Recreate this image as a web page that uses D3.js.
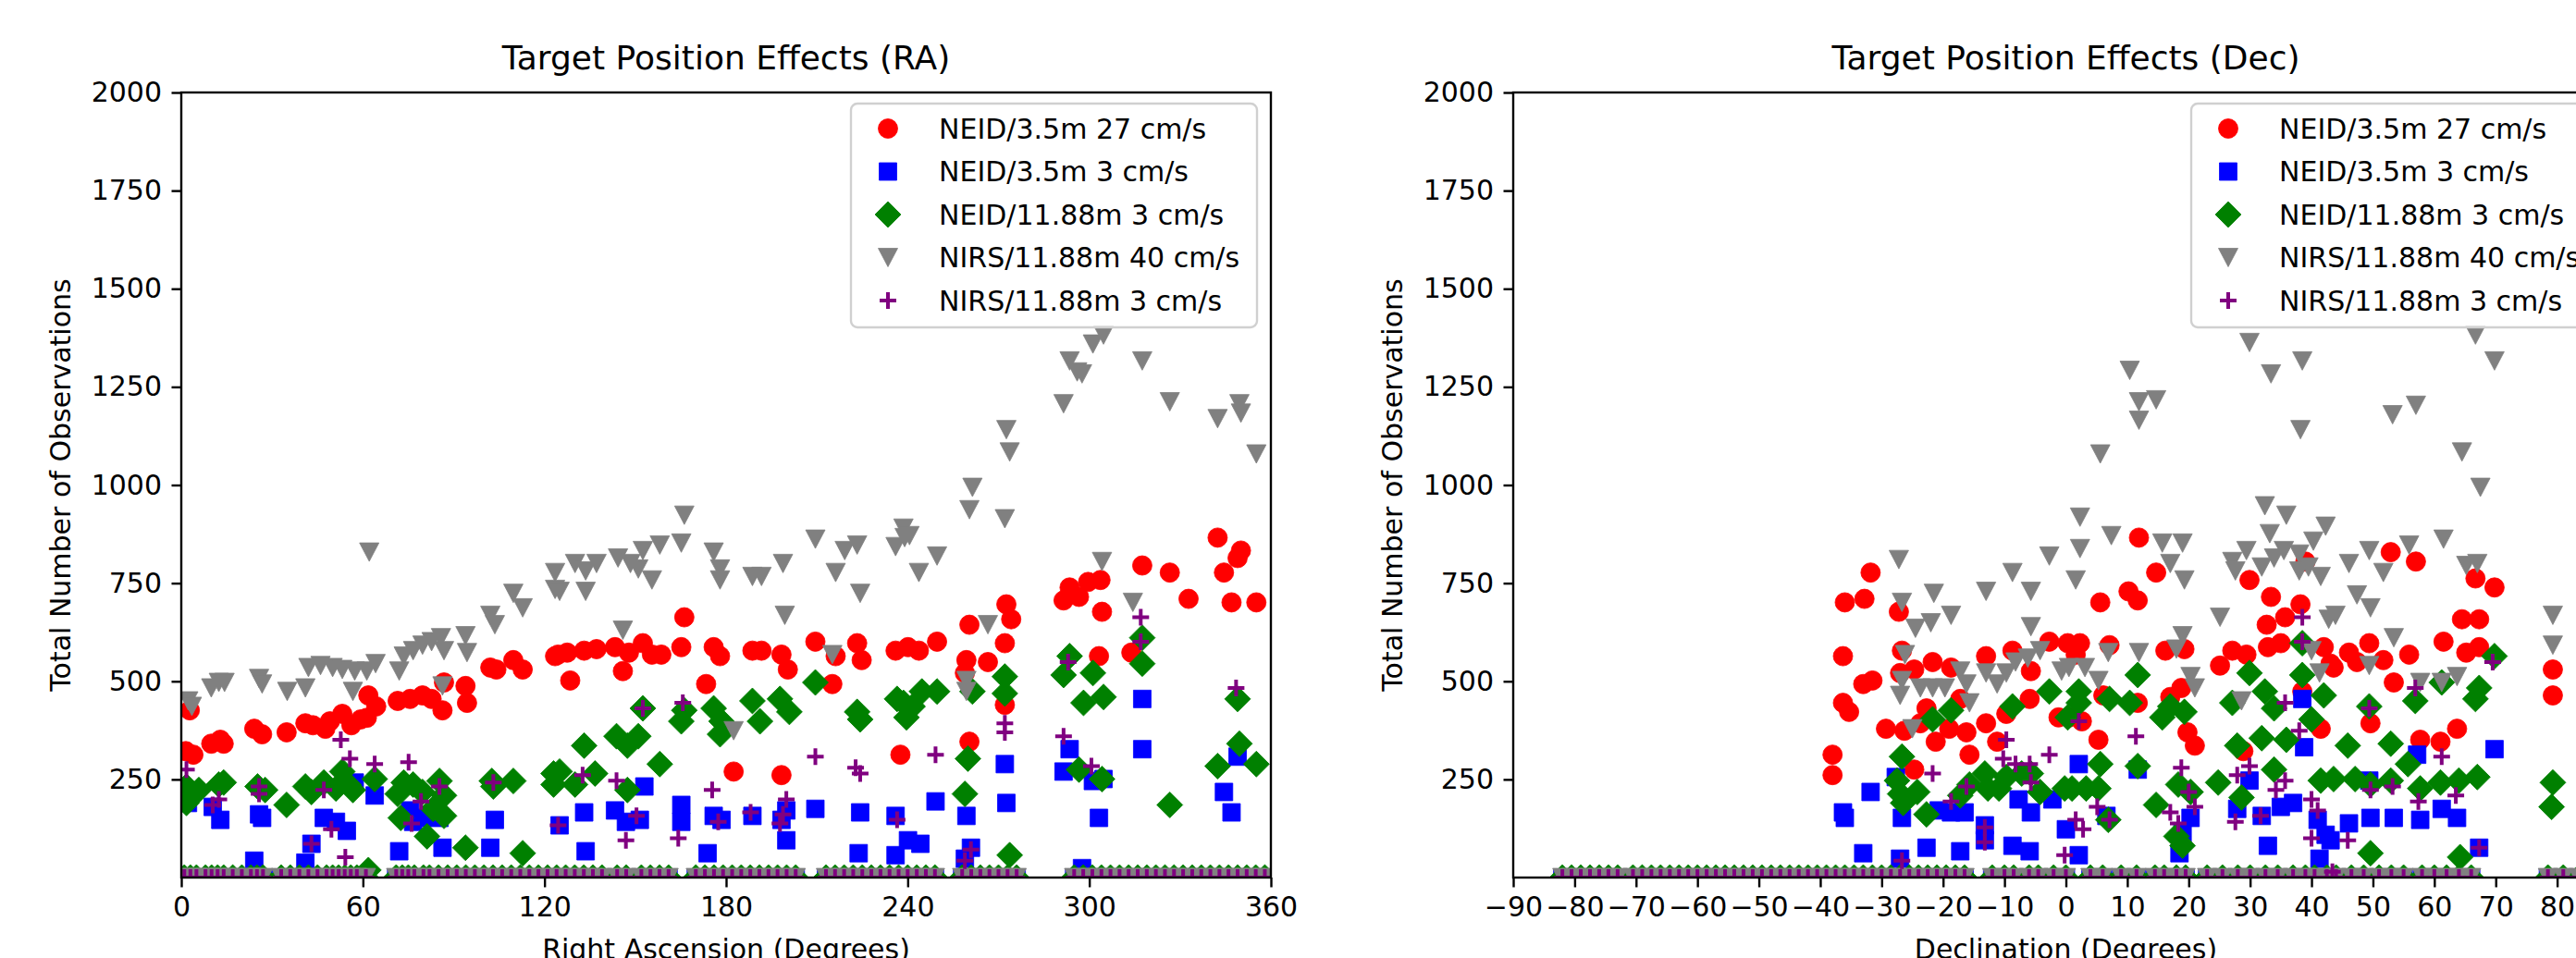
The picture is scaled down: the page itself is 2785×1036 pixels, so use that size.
<!DOCTYPE html>
<html>
<head>
<meta charset="utf-8">
<script src="https://cdn.jsdelivr.net/npm/d3@7"></script>
<style>
  body { margin: 0; background: #fff; }
  svg { display: block; font-family: "DejaVu Sans", sans-serif; }
</style>
</head>
<body>
<div id="chart"></div>
<script>
const WIDTH = 2785;
const HEIGHT = 1036;

// series labels (legend order = draw order)
const seriesNames = ["NEID/3.5m 27 cm/s", "NEID/3.5m 3 cm/s", "NEID/11.88m 3 cm/s", "NIRS/11.88m 40 cm/s", "NIRS/11.88m 3 cm/s"];
const yTicks = [250, 500, 750, 1000, 1250, 1500, 1750, 2000];
const raTicks = [0, 60, 120, 180, 240, 300, 360];
const decTicks = [-90, -80, -70, -60, -50, -40, -30, -20, -10, 0, 10, 20, 30, 40, 50, 60, 70, 80, 90];

// ---- RA panel, [ra, observations]
const raRed = [[2.8,426],[1.5,322],[4,313],[9.9,341],[12.9,351],[14,341],[24.1,379],[26.7,365],[34.8,370],[41,393],[43.5,388],[47.6,379],[49.1,398],[53.2,417],[56.2,388],[59.3,403],[61.3,407],[61.8,464],[64.4,436],[71.5,450],[75.6,455],[79.7,464],[82.7,455],[86.3,426],[86.8,497],[93.9,488],[94.4,445],[102.1,535],[104.1,530],[109.7,554],[112.8,530],[123.5,564],[124.5,568],[127.5,573],[128.5,502],[133.1,578],[137.2,582],[143.3,587],[145.9,526],[147.9,573],[152.5,597],[155.5,568],[158.6,568],[165.2,587],[166.2,663],[173.4,493],[175.9,587],[178,564],[182.5,270],[188.7,578],[191.7,578],[198.3,568],[198.3,261],[200.4,530],[209.5,601],[215.1,493],[216.2,564],[223.3,597],[224.8,554],[236,578],[237.6,313],[240.1,587],[243.7,578],[249.7,601],[258.9,521],[259.4,554],[260.4,644],[260.4,346],[266.5,549],[272.1,597],[272.1,440],[272.6,696],[274.2,658],[291.5,706],[293.5,739],[296.6,715],[299.6,753],[303.7,758],[304.2,677],[303.2,564],[313.9,573],[317.5,795],[326.6,777],[332.8,710],[342.4,866],[344.5,777],[347,701],[349,814],[350.1,833],[355.2,701]];
const raBlue = [[2.2,190],[10.4,180],[12.9,147],[24.1,43],[25.7,161],[26.7,152],[41,38],[43,86],[47.1,152],[51.1,142],[54.7,119],[57.3,242],[63.9,209],[72,67],[75.6,171],[76.6,142],[79.7,152],[85.3,152],[86.3,76],[102.1,76],[103.6,147],[125,133],[133.1,166],[133.6,67],[143.3,171],[146.9,142],[151.5,147],[153,232],[165.2,185],[165.2,142],[173.9,62],[175.9,157],[178.5,147],[188.7,157],[198.3,147],[199.9,171],[199.9,95],[209.5,175],[223.8,62],[224.3,166],[236,157],[236,57],[240.1,95],[244.2,86],[249.2,194],[258.9,48],[259.4,157],[260.9,76],[272.1,289],[272.6,190],[291.5,270],[293.5,327],[297.6,24],[301.2,246],[303.2,152],[304.7,251],[317.5,455],[317.5,327],[344.5,218],[347,166],[349,308]];
const raGreen = [[1.7,232],[2.2,209],[1.7,190],[5.8,223],[12.4,237],[14,242],[25.2,232],[27.7,223],[34.8,185],[41,232],[43,218],[47.1,242],[51.1,227],[53.2,270],[55.2,237],[56.7,223],[61.8,19],[63.9,251],[71.5,213],[72.5,152],[73.5,242],[76.6,237],[79.7,218],[81.2,105],[83.2,175],[85.3,246],[86.8,209],[86.8,157],[93.9,76],[102.6,246],[103.1,232],[109.7,246],[112.8,62],[123,265],[123,237],[125,270],[130.1,237],[133.1,336],[136.7,265],[143.8,360],[147.4,336],[147.4,223],[151,360],[152.5,431],[158.1,289],[165.2,398],[166.2,426],[175.9,431],[178,365],[178.5,398],[188.7,450],[191.2,398],[197.8,455],[200.9,422],[209.5,497],[223.3,422],[224.3,403],[236.5,455],[238.6,445],[239.6,408],[241.6,436],[244.7,474],[249.7,474],[258.9,213],[259.9,303],[261.4,474],[272.1,512],[272.1,469],[273.7,57],[291.5,516],[293.5,564],[296.6,275],[298.1,445],[301.2,521],[304.2,251],[304.7,460],[317.5,611],[317.5,545],[326.6,185],[342.4,284],[349,455],[349.6,341],[355.2,289]];
const raGrey = [[2.3,450],[3.5,436],[9.9,483],[12.4,497],[14.3,497],[25.7,507],[26.7,493],[35,474],[41,483],[42,535],[46,540],[50,535],[53.2,530],[56.7,474],[57.3,526],[61.3,526],[62.1,829],[64.2,545],[72,526],[73.5,564],[76.6,578],[79.7,592],[82.7,601],[85.8,611],[86.3,488],[86.8,578],[93.9,616],[94.4,573],[102.1,668],[103.6,644],[109.7,724],[112.8,687],[123.5,777],[123.5,734],[125,729],[130.1,800],[133.6,781],[133.6,729],[137.2,800],[144.3,814],[145.9,630],[148.4,800],[151,786],[152.5,833],[155.5,758],[158.1,847],[165.2,852],[166.2,923],[175.9,829],[178,786],[178,758],[182.5,374],[188.7,767],[191.7,767],[198.8,800],[199.4,668],[209.5,862],[215.1,568],[216.2,777],[219.2,833],[223.3,847],[224.3,724],[236,843],[238.6,890],[239,866],[240.6,871],[243.7,777],[249.7,819],[259.4,474],[259.4,502],[260.4,937],[261.4,994],[266.5,644],[272.1,914],[272.6,1141],[273.7,1084],[291.5,1207],[293.5,1316],[296,1288],[297.6,1283],[301.2,1359],[304.2,805],[304.7,1382],[314.4,701],[317.5,1316],[326.6,1212],[342.4,1169],[349.6,1207],[350.1,1183],[355.2,1079]];
const raPurple = [[1.7,275],[10.4,185],[12.4,199],[25.7,232],[25.7,213],[43,86],[47.1,223],[49.6,123],[52.7,351],[54.2,52],[55.7,303],[63.9,289],[75.1,294],[76.1,138],[79.2,194],[85.3,232],[103.1,242],[124.5,133],[132.6,261],[143.8,247],[146.9,95],[150.4,157],[152.5,431],[164.2,100],[165.7,445],[175.4,223],[177.4,142],[188.1,166],[197.8,138],[198.8,161],[199.9,199],[209.5,308],[222.8,280],[224.3,265],[236.5,147],[249.2,313],[258.9,43],[260.9,71],[272.1,393],[272.1,370],[291.5,360],[293,549],[300.7,284],[317,663],[317,601],[348.5,483]];
// targets with no observations (sit on the x axis)
const raZeros = [1,3,5,8,10,12,14,17,20,23,25,27,33,36,39,42,45,48,50,52,54,56,58,61,71,73,75,77,80,82,85,88,91,94,97,100,103,106,109,112,115,118,121,124,127,130,133,136,139,144,147,152,155,158,161,170,173,176,179,182,185,188,191,194,197,200,203,213,216,219,222,225,228,231,234,237,240,243,246,249,258,261,264,267,270,273,276,295,298,301,304,307,310,313,316,319,322,325,328,331,334,337,340,343,346,349,352,355,358];

// ---- Dec panel, [dec, observations]
const decRed = [[-38,313],[-38,261],[-36.3,564],[-36.3,445],[-35.3,422],[-36,701],[-32.8,710],[-31.8,777],[-33,493],[-31.5,502],[-27.2,677],[-26.7,578],[-27,521],[-24.7,530],[-24.7,275],[-29.3,379],[-26.3,374],[-23.7,393],[-22.7,431],[-21.7,549],[-21.2,346],[-19,379],[-18.7,535],[-17.2,455],[-16.2,370],[-15.7,313],[-13,564],[-13,393],[-11.2,346],[-9.7,417],[-8.7,578],[-5.9,455],[-5.7,526],[-2.7,601],[-1.2,408],[0.3,597],[0.5,408],[1.6,568],[2.3,597],[2.6,398],[5.3,351],[5.6,701],[6.1,464],[7.1,592],[10.2,729],[11.7,706],[11.7,445],[11.9,866],[14.7,777],[16.2,578],[17,460],[18.8,483],[19.3,582],[19.8,370],[21,336],[25.1,540],[27.1,578],[28.9,322],[29.4,568],[29.9,758],[32.7,644],[32.9,587],[33.4,715],[35,597],[35.7,663],[38.2,696],[38.5,474],[39,805],[41.5,379],[42,587],[43.1,545],[43.6,535],[46.1,573],[47.4,549],[49.4,597],[49.6,393],[51.7,554],[52.9,829],[53.4,497],[55.9,568],[57,805],[57.7,351],[61,346],[61.5,601],[63.7,379],[64.5,658],[65.2,573],[66.7,762],[67.3,658],[67.3,587],[69.8,739],[79.3,530],[79.3,464]];
const decBlue = [[-36.3,166],[-36,152],[-33,62],[-31.8,218],[-27.7,256],[-27,48],[-26.7,152],[-22.7,76],[-20.7,171],[-18.7,166],[-17.2,67],[-16.5,166],[-13.2,133],[-13.2,95],[-8.7,81],[-7.7,199],[-5.9,67],[-5.7,166],[-2.2,199],[0,123],[2.1,289],[2.1,57],[6.6,157],[11.7,275],[18.5,62],[19,114],[20.3,152],[27.9,175],[29.9,247],[31.9,157],[32.9,81],[35,180],[37,190],[38.5,455],[38.8,332],[41,147],[41.3,48],[42.3,109],[43.1,95],[46.1,138],[49.4,247],[49.6,152],[53.4,152],[57.2,313],[57.7,147],[61.2,175],[63.7,152],[67.3,76],[69.8,327]];
const decGreen = [[-27.5,247],[-27,213],[-26.7,308],[-26.5,190],[-24.2,218],[-22.7,161],[-21.7,403],[-18.7,426],[-17.2,209],[-15.7,237],[-13.2,265],[-12.7,227],[-10.9,227],[-9.7,256],[-8.7,436],[-7.2,265],[-5.7,265],[-4.2,218],[-2.7,474],[-0.2,227],[0.3,408],[1,227],[2.1,474],[2.1,445],[3.3,227],[5.3,227],[5.6,289],[6.9,147],[7.1,455],[10.4,445],[11.7,516],[11.7,284],[14.7,185],[15.7,408],[17,436],[18,105],[18.3,237],[19,81],[19.3,422],[20.3,218],[24.8,242],[27.1,445],[27.9,336],[28.6,204],[29.9,521],[31.9,355],[32.4,474],[33.9,431],[33.9,275],[35.9,351],[38.5,597],[38.5,516],[40,403],[41.5,247],[42,464],[43.6,251],[45.9,336],[47.1,251],[49.4,436],[49.6,237],[49.6,62],[52.9,341],[52.9,247],[55.7,289],[56.9,450],[57.7,227],[61,242],[61.2,497],[64,247],[64.2,52],[66.7,455],[67,256],[67.3,483],[69.8,564],[79.3,242],[79.1,180]];
const decGrey = [[-27.2,810],[-26.7,701],[-24.5,635],[-22,649],[-21.5,724],[-18.7,668],[-26.2,568],[-26.7,502],[-27,464],[-25,379],[-23.7,483],[-21.7,483],[-19.7,483],[-17.2,526],[-16.2,493],[-15.7,445],[-13,729],[-13,521],[-11.2,493],[-9.7,521],[-8.7,777],[-8.2,549],[-5.7,729],[-5.7,639],[-6.2,559],[-4.2,578],[-2.7,819],[-0.7,526],[0.5,535],[1.6,758],[2.3,918],[2.3,838],[3.1,535],[5.3,502],[5.6,1079],[6.9,573],[7.4,871],[10.4,1292],[11.9,1212],[11.9,1165],[11.9,573],[14.7,1217],[15.7,852],[17,800],[18,582],[19,852],[19,616],[19.3,758],[20.3,512],[21,483],[25.1,663],[27.1,805],[27.6,781],[28.6,450],[29.4,833],[29.9,1363],[31.9,791],[32.4,947],[33.2,876],[33.4,1283],[33.9,814],[35.5,833],[35.9,923],[38,824],[38,781],[38.2,1141],[38.5,1316],[39.5,791],[40,578],[40.3,857],[41.3,521],[41.5,767],[42.3,895],[42.8,658],[43.9,668],[46.1,800],[47.4,720],[49.4,833],[49.4,540],[49.6,687],[51.7,777],[53.2,1179],[53.4,611],[55.9,847],[57,1203],[57.7,497],[61.2,497],[61.5,862],[63.7,512],[64.5,1084],[65.2,795],[66.7,1382],[67,800],[67.5,994],[69.8,1316],[79.3,668],[79.3,592]];
const decPurple = [[-26.7,43],[-21.7,265],[-18.7,194],[-16.2,232],[-13.2,128],[-13.2,90],[-10.2,303],[-9.7,351],[-8.2,289],[-5.9,289],[-5.7,242],[-2.7,313],[-0.2,57],[1.6,147],[2.1,398],[2.8,123],[5.1,180],[7.1,147],[11.4,360],[17,166],[18.3,138],[18.8,280],[20,218],[21,180],[27.6,142],[27.9,261],[29.9,284],[31.7,157],[34.2,223],[35.7,247],[35.7,445],[38,374],[38.5,663],[38.5,601],[40,199],[40,100],[41,171],[43.4,15],[45.9,95],[49.4,431],[49.6,223],[53.2,232],[56.9,483],[57.4,194],[61.2,308],[63.5,209],[67.3,76],[69.5,549]];
const decZeros = [-82,-80.5,-79,-77.5,-76,-74.5,-73,-70.5,-69,-67.5,-66,-64.5,-63,-61.5,-60,-58.5,-57,-55.5,-54,-52.5,-51,-49.5,-48,-46.5,-45,-43.5,-42,-40.5,-39,-37.5,-36,-34.5,-33,-31.5,-30,-28.5,-27,-25.5,-24,-22.5,-21,-19.5,-18,-16.5,-12,-10,-8.5,-6,-4.5,-2,0,4,6,9,11.5,14.5,16,18,19.5,23,25.5,28,30,32.5,34.5,37,39,40.5,42.5,44,46.5,48.5,51,53,55,58,60,62,64,66,78.5,81,83.5];

// marker styles per series
const styles = [
    { color: "#ff0000", shape: "circle" },
    { color: "#0000ff", shape: "square" },
    { color: "#008000", shape: "diamond" },
    { color: "#808080", shape: "tri" },
    { color: "#800080", shape: "plus" }
];

function markerPath(shape) {
    if (shape === "circle") { const r = 10.5; return `M${-r},0A${r},${r} 0 1,0 ${r},0A${r},${r} 0 1,0 ${-r},0Z`; }
    if (shape === "square") { const s = 9.5; return `M${-s},${-s}H${s}V${s}H${-s}Z`; }
    if (shape === "diamond") { const s = 14; return `M0,${-s}L${s},0L0,${s}L${-s},0Z`; }
    if (shape === "tri") { return "M-10.5,-10L10.5,-10L0,10Z"; }
    return "M-9,0H9M0,-9V9";
}

function drawMarkers(g, data, style, x, y) {
    const p = markerPath(style.shape);
    g.append("g").selectAll("path")
        .data(data)
        .enter().append("path")
        .attr("d", p)
        .attr("transform", d => `translate(${x(d[0])},${y(d[1])})`)
        .attr("fill", style.shape === "plus" ? "none" : style.color)
        .attr("stroke", style.color)
        .attr("stroke-width", style.shape === "plus" ? 4 : 0.8);
}

function drawPanel(svg, cfg) {
    const x = d3.scaleLinear().domain(cfg.xDomain).range([cfg.left, cfg.left + cfg.width]);
    const y = d3.scaleLinear().domain([0, 2000]).range([949, 100]);

    const clipId = "clip-" + cfg.id;
    svg.append("clipPath").attr("id", clipId)
        .append("rect")
        .attr("x", cfg.left).attr("y", 100)
        .attr("width", cfg.width).attr("height", 849);

    const plot = svg.append("g").attr("clip-path", `url(#${clipId})`);
    cfg.series.forEach((s, i) => {
        const withZeros = i === 0 ? s : s.concat(cfg.zeros.map(z => [z, 0]));
        drawMarkers(plot, withZeros, styles[i], x, y);
    });

    // frame
    svg.append("rect")
        .attr("x", cfg.left).attr("y", 100)
        .attr("width", cfg.width).attr("height", 849)
        .attr("fill", "none").attr("stroke", "black").attr("stroke-width", 2.4);

    const xAxis = svg.append("g")
        .attr("transform", "translate(0,949)")
        .call(d3.axisBottom(x).tickValues(cfg.xTicks).tickFormat(d3.format("d"))
            .tickSize(10.5).tickPadding(10.5).tickSizeOuter(0));
    const yAxis = svg.append("g")
        .attr("transform", `translate(${cfg.left},0)`)
        .call(d3.axisLeft(y).tickValues(yTicks).tickFormat(d3.format("d"))
            .tickSize(10.5).tickPadding(10.5).tickSizeOuter(0));
    [xAxis, yAxis].forEach(a => {
        a.select(".domain").remove();
        a.selectAll("line").attr("stroke", "black").attr("stroke-width", 2.4);
        a.selectAll("text").attr("fill", "black").style("font-size", "30px")
            .style("font-family", "DejaVu Sans");
    });

    svg.append("text")
        .attr("x", cfg.left + cfg.width / 2).attr("y", 75)
        .attr("text-anchor", "middle")
        .style("font-size", "36px")
        .text(cfg.title);
    svg.append("text")
        .attr("x", cfg.left + cfg.width / 2).attr("y", 1037)
        .attr("text-anchor", "middle")
        .style("font-size", "30px")
        .text(cfg.xLabel);
    svg.append("text")
        .attr("transform", `translate(${cfg.yLabelX},${(100 + 949) / 2}) rotate(-90)`)
        .attr("text-anchor", "middle")
        .style("font-size", "30px")
        .text("Total Number of Observations");

    // legend
    const lg = svg.append("g").attr("transform", `translate(${cfg.legendX},112)`);
    lg.append("rect")
        .attr("width", 439).attr("height", 242).attr("rx", 7)
        .attr("fill", "white").attr("fill-opacity", 0.8)
        .attr("stroke", "#d0d0d0").attr("stroke-width", 2.4);
    seriesNames.forEach((name, i) => {
        const row = lg.append("g").attr("transform", `translate(0,${27 + i * 46.5})`);
        row.append("path")
            .attr("d", markerPath(styles[i].shape))
            .attr("transform", "translate(40,0)")
            .attr("fill", styles[i].shape === "plus" ? "none" : styles[i].color)
            .attr("stroke", styles[i].color)
            .attr("stroke-width", styles[i].shape === "plus" ? 4 : 0.8);
        row.append("text")
            .attr("x", 95).attr("dy", "0.35em")
            .style("font-size", "30px")
            .text(name);
    });
}

const svg = d3.select("#chart").append("svg")
    .attr("width", WIDTH)
    .attr("height", HEIGHT);
svg.append("rect").attr("width", WIDTH).attr("height", HEIGHT).attr("fill", "white");

drawPanel(svg, {
    id: "ra", left: 196, width: 1178, xDomain: [0, 360], xTicks: raTicks,
    title: "Target Position Effects (RA)", xLabel: "Right Ascension (Degrees)",
    yLabelX: 76, legendX: 920,
    series: [raRed, raBlue, raGreen, raGrey, raPurple], zeros: raZeros
});
drawPanel(svg, {
    id: "dec", left: 1636, width: 1195, xDomain: [-90, 90], xTicks: decTicks,
    title: "Target Position Effects (Dec)", xLabel: "Declination (Degrees)",
    yLabelX: 1516, legendX: 2369,
    series: [decRed, decBlue, decGreen, decGrey, decPurple], zeros: decZeros
});
</script>
</body>
</html>
